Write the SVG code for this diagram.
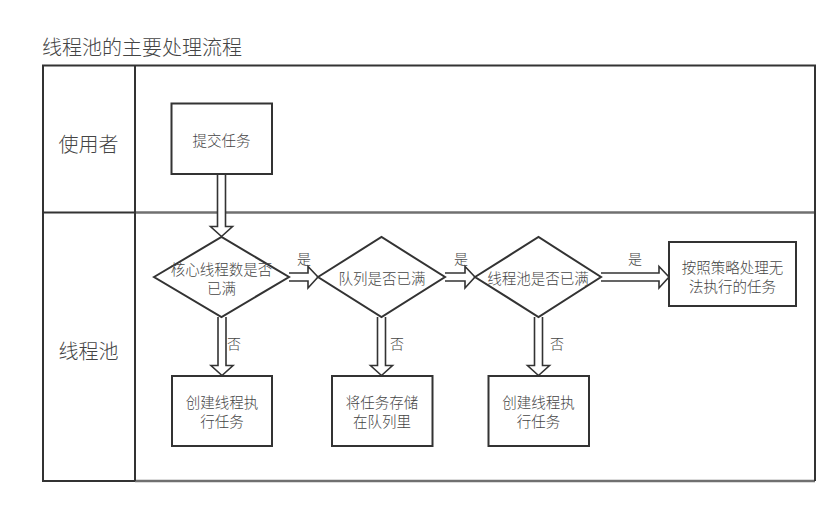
<svg xmlns="http://www.w3.org/2000/svg" width="839" height="507" viewBox="0 0 839 507">
<style>
text{font-family:"Noto Sans CJK SC","Noto Sans",sans-serif;fill:#444;font-weight:300;}
.node{fill:#fff;stroke:#333;stroke-width:2;}
.t{font-size:14.5px;text-anchor:middle;dominant-baseline:central;}
.lane{font-size:20px;text-anchor:middle;dominant-baseline:central;}
.lbl{font-size:14px;text-anchor:middle;dominant-baseline:central;}
.arrow{fill:#fff;stroke:#333;stroke-width:1.6;stroke-linejoin:miter;}
.frame{fill:none;stroke:#333;stroke-width:2;}
.div{stroke:#707070;stroke-width:2.5;fill:none;}
</style>
<rect width="839" height="507" fill="#fff"/>
<text x="42" y="46.5" style="font-size:20px;dominant-baseline:central;">线程池的主要处理流程</text>
<g id="pool">
<line class="div" x1="135" y1="212.5" x2="815" y2="212.5"/>
<line class="div" x1="135" y1="481" x2="815" y2="481"/>
<line class="frame" x1="42" y1="212.5" x2="135" y2="212.5"/>
<path class="frame" d="M135,481 H43 V65.5 H815 V481"/>
<line class="frame" x1="135" y1="65.5" x2="135" y2="481"/>
</g>
<g id="lane-user"><text class="lane" x="88.5" y="143">使用者</text></g>
<g id="lane-pool"><text class="lane" x="88.5" y="350">线程池</text></g>
<g id="connectors">
<path class="arrow" d="M217.5,174 V226.5 H210.5 L221.5,236.5 L232.5,226.5 H225.5 V174"/>
<path class="arrow" d="M218,317 V365.5 H211 L222,375.5 L233,365.5 H226 V317"/>
<path class="arrow" d="M377.5,317 V365.5 H370.5 L381.5,375.5 L392.5,365.5 H385.5 V317"/>
<path class="arrow" d="M534.5,317 V365.5 H527.5 L538.5,375.5 L549.5,365.5 H542.5 V317"/>
<path class="arrow" d="M289,273 H308 V266.5 L318,277 L308,288 V281 H289"/>
<path class="arrow" d="M445,273 H465 V266.5 L475,277 L465,288 V281 H445"/>
<path class="arrow" d="M601,273 H659 V266.5 L669,277 L659,288 V281 H601"/>
<text class="lbl" x="304" y="258">是</text>
<text class="lbl" x="461" y="258">是</text>
<text class="lbl" x="635" y="258">是</text>
<text class="lbl" x="234" y="343">否</text>
<text class="lbl" x="397" y="343">否</text>
<text class="lbl" x="557" y="343">否</text>
</g>
<g id="submit"><rect class="node" x="171.5" y="103.5" width="100.5" height="70.5"/><text class="t" x="221.5" y="139">提交任务</text></g>
<g id="d1"><polygon class="node" points="154,277 221.5,237 289,277 221.5,317"/><text class="t" x="221.5" y="268.5">核心线程数是否</text><text class="t" x="221.5" y="287.5">已满</text></g>
<g id="d2"><polygon class="node" points="318,277 381.5,237 445,277 381.5,317"/><text class="t" x="382" y="277">队列是否已满</text></g>
<g id="d3"><polygon class="node" points="475,277 538.5,237 601,277 538.5,317"/><text class="t" x="538" y="277">线程池是否已满</text></g>
<g id="reject"><rect class="node" x="669" y="242" width="127" height="64"/><text class="t" x="732.5" y="266">按照策略处理无</text><text class="t" x="732.5" y="285">法执行的任务</text></g>
<g id="create1"><rect class="node" x="172" y="376" width="100" height="70"/><text class="t" x="222" y="401.5">创建线程执</text><text class="t" x="222" y="420.5">行任务</text></g>
<g id="queue"><rect class="node" x="332" y="376" width="100.5" height="70"/><text class="t" x="382" y="401.5">将任务存储</text><text class="t" x="382" y="420.5">在队列里</text></g>
<g id="create2"><rect class="node" x="488.5" y="376" width="100.5" height="70"/><text class="t" x="538.5" y="401.5">创建线程执</text><text class="t" x="538.5" y="420.5">行任务</text></g>
</svg>
